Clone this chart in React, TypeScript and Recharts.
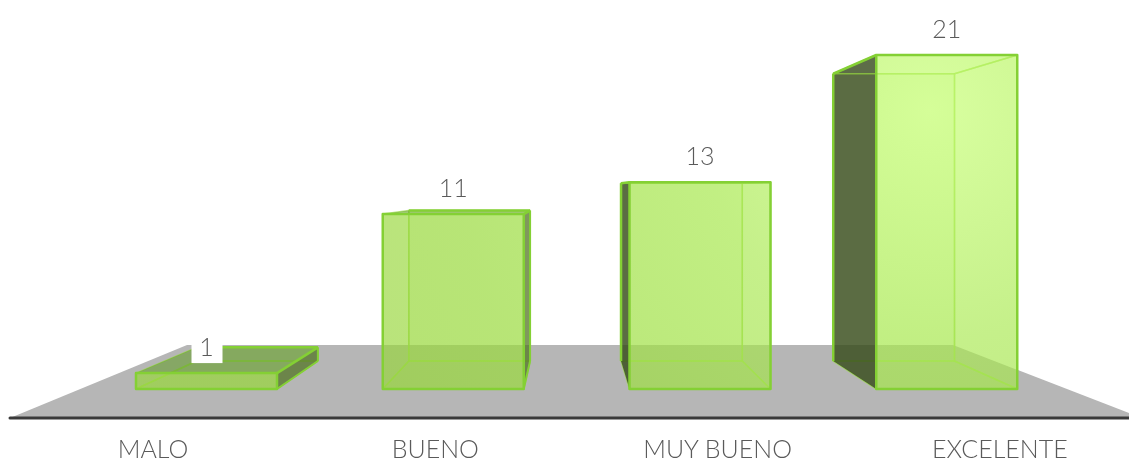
import { Bar, BarChart, LabelList, XAxis, YAxis } from "recharts";

const categories = ["MALO", "BUENO", "MUY BUENO", "EXCELENTE"];
const values = [1, 11, 13, 21];

const data = categories.map((name, i) => ({ name, value: values[i] }));

const FONT = "Lato, sans-serif";
const TEXT_COLOR = "#5a5a5a";
const EDGE = "#84d034";
const INNER_EDGE = "#9cdc4c";

// the back of each box shrinks towards one vanishing point
const VP_X = 569;
const VP_Y = 189;
const DEPTH = 0.86;
const backX = (x: number) => VP_X + DEPTH * (x - VP_X);
const backY = (y: number) => VP_Y + DEPTH * (y - VP_Y);

const pts = (list: number[][]) => list.map((p) => p.join(",")).join(" ");

const Box3D = (props: any) => {
  const { x, y, width, height } = props;
  const l = x;
  const r = x + width;
  const t = y;
  const b = y + height;
  const bl = backX(l);
  const br = backX(r);
  const bt = backY(t);
  const bb = backY(b);

  const back = pts([[bl, bt], [br, bt], [br, bb], [bl, bb]]);
  const bottom = pts([[l, b], [r, b], [br, bb], [bl, bb]]);
  const left = pts([[l, t], [bl, bt], [bl, bb], [l, b]]);
  const right = pts([[r, t], [br, bt], [br, bb], [r, b]]);
  const top = pts([[l, t], [r, t], [br, bt], [bl, bt]]);

  return (
    <g strokeLinejoin="round">
      <polygon points={back} fill="#a7e84d" fillOpacity={0.12} stroke={INNER_EDGE} strokeOpacity={0.7} strokeWidth={1.5} />
      <polygon points={bottom} fill="#a7e84d" fillOpacity={0.12} stroke={INNER_EDGE} strokeOpacity={0.7} strokeWidth={1.5} />
      {bl < l ? (
        <polygon points={left} fill="#34491a" fillOpacity={0.8} stroke="none" />
      ) : (
        <polygon points={left} fill="none" stroke={INNER_EDGE} strokeOpacity={0.7} strokeWidth={1.5} />
      )}
      {br > r ? (
        <polygon points={right} fill="#4f6e22" fillOpacity={0.7} stroke="none" />
      ) : (
        <polygon points={right} fill="none" stroke={INNER_EDGE} strokeOpacity={0.7} strokeWidth={1.5} />
      )}
      {bt < t ? (
        <polygon points={top} fill="#5f9a22" fillOpacity={0.55} stroke="none" />
      ) : (
        <polygon points={top} fill="none" stroke={INNER_EDGE} strokeOpacity={0.7} strokeWidth={1.5} />
      )}
      <rect x={l} y={t} width={width} height={height} fill="url(#frontGlow)" fillOpacity={0.68} />
      {bl < l && <line x1={bl} y1={bb} x2={bl} y2={bt} stroke={EDGE} strokeWidth={2.5} />}
      {bl < l && <line x1={l} y1={t} x2={bl} y2={bt} stroke={EDGE} strokeWidth={2.5} />}
      {br > r && <line x1={r} y1={t} x2={br} y2={bt} stroke={EDGE} strokeWidth={2.5} />}
      {br > r && <line x1={br} y1={bt} x2={br} y2={bb} stroke={EDGE} strokeWidth={2} />}
      {br > r && <line x1={r} y1={b} x2={br} y2={bb} stroke={EDGE} strokeWidth={2} />}
      {bt < t && <line x1={bl} y1={bt} x2={br} y2={bt} stroke={EDGE} strokeWidth={2.5} />}
      <rect x={l} y={t} width={width} height={height} fill="none" stroke={EDGE} strokeWidth={2.5} />
    </g>
  );
};

const ValueLabel = (props: any) => {
  const { x, y, width, value } = props;
  const cx = x + width / 2;
  return (
    <g>
      <rect x={cx - 15} y={y - 44} width={31} height={34} fill="#ffffff" />
      <text x={cx} y={y - 17} textAnchor="middle" fontFamily={FONT} fontWeight={300} fontSize={25} fill={TEXT_COLOR}>
        {value}
      </text>
    </g>
  );
};

// axis labels sit on the front edge of the floor, so they spread wider than the bars
const CategoryTick = (props: any) => {
  const { x, payload } = props;
  return (
    <text
      x={577 + (x - 577) * 1.144}
      y={458}
      textAnchor="middle"
      fontFamily={FONT}
      fontWeight={300}
      fontSize={25}
      fill={TEXT_COLOR}
    >
      {payload.value}
    </text>
  );
};

export default function App() {
  return (
    <div style={{ position: "absolute", left: 0, top: 0, width: 1129, height: 463, filter: "blur(0.5px)" }}>
      <BarChart
        width={1129}
        height={463}
        data={data}
        margin={{ top: 55, right: 59, bottom: 0, left: 83 }}
        barSize={141}
      >
        <defs>
          <radialGradient id="frontGlow" gradientUnits="userSpaceOnUse" cx={930} cy={110} r={600}>
            <stop offset="0" stopColor="#c6ff72" />
            <stop offset="0.38" stopColor="#aae953" />
            <stop offset="0.8" stopColor="#9bda40" />
            <stop offset="1" stopColor="#98d63c" />
          </radialGradient>
        </defs>
        <polygon points="187,345 953,345 1129,413 1129,418 10,418" fill="#b6b6b6" />
        <line x1={10} y1={418} x2={1129} y2={418} stroke="#3a3a3a" strokeWidth={3} strokeLinecap="round" />
        <XAxis
          dataKey="name"
          height={74}
          axisLine={false}
          tickLine={false}
          interval={0}
          tick={<CategoryTick />}
        />
        <YAxis hide domain={[0, 21]} />
        <Bar dataKey="value" shape={<Box3D />} isAnimationActive={false}>
          <LabelList dataKey="value" content={<ValueLabel />} />
        </Bar>
      </BarChart>
    </div>
  );
}
